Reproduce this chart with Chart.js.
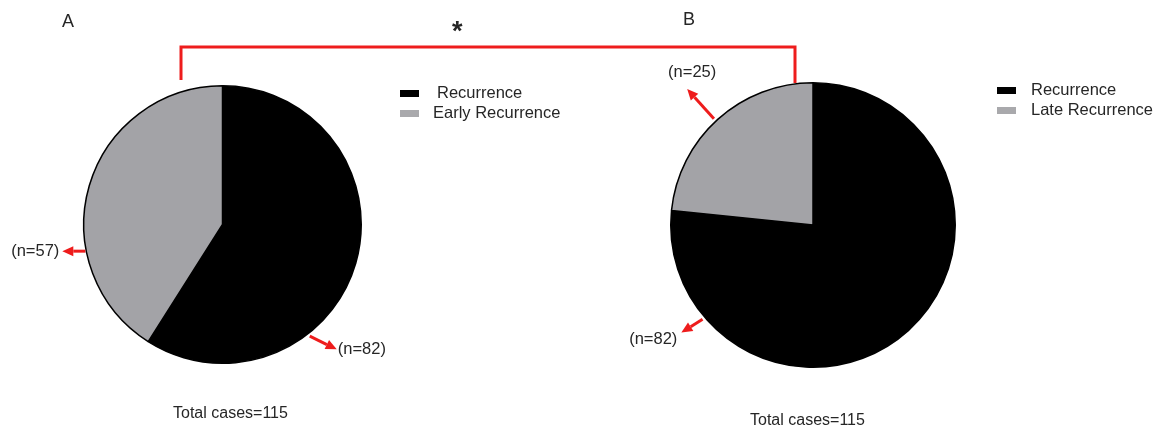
<!DOCTYPE html>
<html><head><meta charset="utf-8">
<script src="https://cdn.jsdelivr.net/npm/chart.js@4"></script>
<style>
body{margin:0;background:#fff;}
#wrap{position:relative;width:1161px;height:430px;font-family:"Liberation Sans",Arial,sans-serif;color:#262626;overflow:hidden}
canvas{position:absolute;left:0;top:0}
.t{position:absolute;white-space:pre;line-height:1}
.sw{position:absolute;width:19px;height:7px}
svg{position:absolute;left:0;top:0}
</style></head><body><div id="wrap">
<svg width="1161" height="430"><polyline points="181,80 181,47 795,47 795,83" fill="none" stroke="#ee1c1c" stroke-width="3"/></svg>
<canvas id="cA" width="1161" height="430"></canvas>
<canvas id="cB" width="1161" height="430"></canvas>
<div class="t" style="left:62px;top:12px;font-size:18px">A</div>
<div class="t" style="left:683px;top:10px;font-size:18px">B</div>
<div class="t" style="left:452px;top:18px;font-size:27px;font-weight:bold">*</div>
<div id="legA"></div><div id="legB"></div>
<div class="t" id="totA" style="left:173px;top:405px;font-size:16px"></div>
<div class="t" id="totB" style="left:750px;top:412px;font-size:16px"></div>
</div>
<script>
const categoriesA = ['Recurrence', 'Early Recurrence'];
const valuesA = [82, 57];
const categoriesB = ['Recurrence', 'Late Recurrence'];
const valuesB = [82, 25];
const totalCases = 115;
const sliceColors = ['#000000', '#a3a3a7'];
const legendColors = ['#000000', '#a9a9ac'];

const arrowPlugin = {
  id: 'arrows',
  afterDatasetsDraw(chart, args, opts) {
    const ctx = chart.ctx;
    const arc = chart.getDatasetMeta(0).data[0];
    const cx = arc.x, cy = arc.y, R = arc.outerRadius;
    const vals = chart.data.datasets[0].data;
    (opts.items || []).forEach(it => {
      const a = it.edge * Math.PI / 180, d = it.dir * Math.PI / 180;
      const sx = cx + (R + it.gap) * Math.cos(a), sy = cy + (R + it.gap) * Math.sin(a);
      const ex = sx + it.len * Math.cos(d), ey = sy + it.len * Math.sin(d);
      ctx.save();
      ctx.strokeStyle = '#ee1c1c'; ctx.fillStyle = '#ee1c1c'; ctx.lineWidth = 3;
      const hx = ex - 11 * Math.cos(d), hy = ey - 11 * Math.sin(d);
      ctx.beginPath(); ctx.moveTo(sx, sy); ctx.lineTo(hx, hy); ctx.stroke();
      const px = -Math.sin(d), py = Math.cos(d);
      ctx.beginPath(); ctx.moveTo(ex, ey);
      ctx.lineTo(hx + 5 * px, hy + 5 * py); ctx.lineTo(hx - 5 * px, hy - 5 * py);
      ctx.closePath(); ctx.fill();
      ctx.fillStyle = '#262626'; ctx.font = '16.5px "Liberation Sans", Arial, sans-serif';
      ctx.textAlign = it.align; ctx.textBaseline = 'middle';
      ctx.fillText('(n=' + vals[it.index] + ')', ex + it.dx, ey + it.dy);
      ctx.restore();
    });
  }
};

function makePie(id, cats, vals, pad, items) {
  return new Chart(document.getElementById(id), {
    type: 'pie',
    data: { labels: cats, datasets: [{ data: vals, backgroundColor: sliceColors, borderColor: '#000', borderWidth: 1.5 }] },
    options: {
      responsive: false, animation: false,
      layout: { padding: pad },
      plugins: { legend: { display: false }, tooltip: { enabled: false }, arrows: { items } }
    },
    plugins: [arrowPlugin]
  });
}

makePie('cA', categoriesA, valuesA, { left: 83, right: 799, top: 85, bottom: 66 }, [
  { index: 1, edge: 169, gap: 1, dir: 180, len: 23, align: 'right', dx: -3, dy: 0 },
  { index: 0, edge: 52, gap: 3, dir: 26, len: 30, align: 'left', dx: 1, dy: 0 }
]);
makePie('cB', categoriesB, valuesB, { left: 670, right: 205, top: 82, bottom: 62 }, [
  { index: 1, edge: -133, gap: 3, dir: -132, len: 40, align: 'center', dx: 5, dy: -17 },
  { index: 0, edge: 139.5, gap: 3, dir: 148, len: 25, align: 'right', dx: -4, dy: 7 }
]);

function legend(el, cats, x, tx, ys) {
  const host = document.getElementById(el);
  cats.forEach((c, i) => {
    const s = document.createElement('div'); s.className = 'sw';
    s.style.left = x + 'px'; s.style.top = (ys[i] - 3) + 'px'; s.style.background = legendColors[i];
    host.appendChild(s);
    const t = document.createElement('div'); t.className = 't';
    t.style.left = tx[i] + 'px'; t.style.top = (ys[i] - 9) + 'px'; t.style.fontSize = '16.5px';
    t.textContent = c; host.appendChild(t);
  });
}
legend('legA', categoriesA, 400, [437, 433], [93, 113]);
legend('legB', categoriesB, 997, [1031, 1031], [90, 110]);
document.getElementById('totA').textContent = 'Total cases=' + totalCases;
document.getElementById('totB').textContent = 'Total cases=' + totalCases;
</script></body></html>
